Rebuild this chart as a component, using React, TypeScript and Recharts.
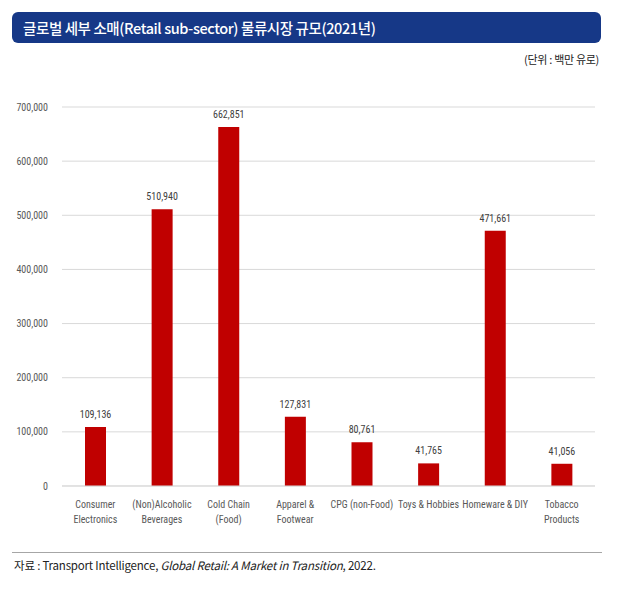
import React from 'react';
import { BarChart, Bar, XAxis, YAxis, CartesianGrid, LabelList } from 'recharts';

const categories = [
  'Consumer\nElectronics',
  '(Non)Alcoholic\nBeverages',
  'Cold Chain\n(Food)',
  'Apparel &\nFootwear',
  'CPG (non-Food)',
  'Toys & Hobbies',
  'Homeware & DIY',
  'Tobacco\nProducts',
];
const marketSize = [109136, 510940, 662851, 127831, 80761, 41765, 471661, 41056];
const yTicks = [0, 100000, 200000, 300000, 400000, 500000, 600000, 700000];

const data = categories.map((name, i) => ({ name, value: marketSize[i] }));

const narrow = '"Liberation Sans Narrow", "Roboto Condensed", "Liberation Sans", sans-serif';
const fmt = (v: number) => v.toLocaleString('en-US');

function CategoryTick(props: any) {
  const { x, y, payload } = props;
  const lines = String(payload.value).split('\n');
  return (
    <g transform={`translate(${x},${y})`}>
      {lines.map((l, i) => (
        <text key={i} x={0} y={14 + i * 15} textAnchor="middle" fill="#595959" fontSize={10} fontFamily={narrow}>
          {l}
        </text>
      ))}
    </g>
  );
}

export default function App() {
  return (
    <div style={{ position: 'absolute', left: 0, top: 0, width: 626, height: 591, background: '#fff', fontFamily: '"Noto Sans CJK KR", "Noto Sans", sans-serif' }}>
      <div
        style={{
          position: 'absolute',
          left: 12,
          top: 12,
          width: 589,
          height: 31,
          background: '#163887',
          borderRadius: 6,
          color: '#fff',
          fontSize: 14.5,
          fontWeight: 500,
          lineHeight: '31px',
          paddingLeft: 11,
          boxSizing: 'border-box',
          letterSpacing: -0.4,
        }}
      >
        글로벌 세부 소매(Retail sub-sector) 물류시장 규모(2021년)
      </div>
      <div style={{ position: 'absolute', right: 27, top: 51, fontSize: 11, color: '#222', letterSpacing: -0.3 }}>
        (단위 : 백만 유로)
      </div>
      <div style={{ position: 'absolute', left: 0, top: 90 }}>
        <BarChart width={626} height={450} data={data} margin={{ top: 17, right: 31, bottom: 0, left: 0 }} barSize={21}>
          <CartesianGrid vertical={false} stroke="#d9d9d9" />
          <XAxis dataKey="name" height={54} axisLine={{ stroke: '#d9d9d9' }} tickLine={false} interval={0} tick={<CategoryTick />} />
          <YAxis
            domain={[0, 700000]}
            ticks={yTicks}
            axisLine={false}
            tickLine={false}
            width={62}
            tickFormatter={fmt}
            tick={{ fontSize: 10, fill: '#595959', fontFamily: narrow }}
            tickMargin={8}
          />
          <Bar dataKey="value" fill="#c00000" isAnimationActive={false}>
            <LabelList dataKey="value" position="top" offset={9} formatter={(v: any) => fmt(Number(v))} style={{ fontSize: 10, fill: '#404040', fontFamily: narrow }} />
          </Bar>
        </BarChart>
      </div>
      <div style={{ position: 'absolute', left: 12, top: 552, width: 590, height: 1, background: '#a6a6a6' }} />
      <div style={{ position: 'absolute', left: 14, top: 557, fontSize: 11.5, color: '#222', letterSpacing: -0.2 }}>
        자료 : Transport Intelligence, <i>Global Retail: A Market in Transition</i>, 2022.
      </div>
    </div>
  );
}
